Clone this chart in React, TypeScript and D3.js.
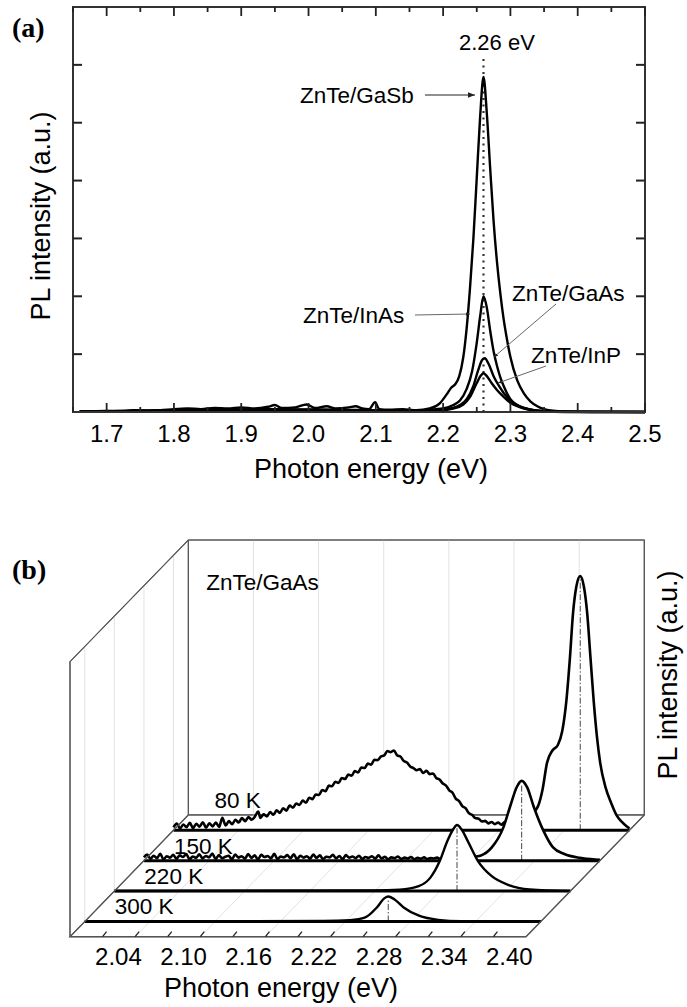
import React from 'react';
import * as d3 from 'd3';

const W = 687;
const H = 1007;
const SANS = 'Liberation Sans, Arial, sans-serif';
const SERIF = 'Liberation Serif, Times New Roman, serif';

// ---------- Panel (a) data ----------
const aDomainX: [number, number] = [1.65, 2.5];
const aDomainY: [number, number] = [0, 7];
const aTickLabels = ['1.7', '1.8', '1.9', '2.0', '2.1', '2.2', '2.3', '2.4', '2.5'];
const aPeakEnergy = 2.26;
const aPeakLabel = '2.26 eV';
const aSeriesNames = ['ZnTe/GaSb', 'ZnTe/InAs', 'ZnTe/GaAs', 'ZnTe/InP'];

const gasb: [number, number][] = [
  [1.66, 0.01], [1.70, 0.02], [1.72, 0.01], [1.74, 0.03], [1.76, 0.02], [1.78, 0.03], [1.80, 0.05],
  [1.82, 0.06], [1.84, 0.05], [1.86, 0.07], [1.88, 0.06], [1.90, 0.08], [1.92, 0.06], [1.94, 0.09],
  [1.95, 0.12], [1.96, 0.07], [1.98, 0.08], [1.997, 0.13], [2.01, 0.07], [2.027, 0.1], [2.04, 0.06],
  [2.06, 0.08], [2.07, 0.1], [2.08, 0.06], [2.09, 0.05], [2.099, 0.17], [2.105, 0.05], [2.12, 0.04],
  [2.14, 0.05], [2.16, 0.03], [2.18, 0.06], [2.195, 0.15], [2.205, 0.3], [2.212, 0.42], [2.218, 0.48],
  [2.224, 0.62], [2.23, 0.95], [2.235, 1.45], [2.24, 2.15], [2.245, 3.0], [2.25, 4.05], [2.255, 5.1],
  [2.26, 5.79], [2.265, 5.15], [2.27, 4.2], [2.275, 3.3], [2.28, 2.6], [2.285, 2.05], [2.29, 1.6],
  [2.295, 1.25], [2.30, 0.95], [2.31, 0.55], [2.32, 0.32], [2.33, 0.18], [2.34, 0.1], [2.35, 0.05],
  [2.36, 0.025], [2.38, 0.01], [2.42, 0.0], [2.5, 0.0],
];
const inas: [number, number][] = [
  [1.66, 0.01], [1.80, 0.03], [1.95, 0.05], [2.10, 0.03], [2.15, 0.02], [2.20, 0.06], [2.215, 0.12],
  [2.225, 0.2], [2.235, 0.4], [2.243, 0.7], [2.25, 1.2], [2.255, 1.65], [2.26, 2.0], [2.265, 1.8],
  [2.27, 1.4], [2.275, 1.05], [2.28, 0.8], [2.285, 0.6], [2.29, 0.45], [2.30, 0.22], [2.31, 0.12],
  [2.32, 0.07], [2.33, 0.04], [2.35, 0.015], [2.38, 0.0], [2.5, 0.0],
];
const gaas: [number, number][] = [
  [1.66, 0.01], [1.85, 0.03], [2.0, 0.04], [2.18, 0.02], [2.21, 0.06], [2.225, 0.12], [2.235, 0.22],
  [2.245, 0.45], [2.252, 0.72], [2.258, 0.9], [2.262, 0.93], [2.268, 0.82], [2.275, 0.62],
  [2.283, 0.45], [2.29, 0.33], [2.30, 0.2], [2.31, 0.12], [2.32, 0.07], [2.33, 0.04], [2.35, 0.015],
  [2.37, 0.005], [2.5, 0.0],
];
const inp: [number, number][] = [
  [1.66, 0.01], [1.90, 0.03], [2.05, 0.03], [2.19, 0.02], [2.215, 0.06], [2.23, 0.13], [2.24, 0.26],
  [2.25, 0.5], [2.256, 0.63], [2.26, 0.67], [2.265, 0.62], [2.272, 0.5], [2.28, 0.38], [2.29, 0.26],
  [2.30, 0.16], [2.31, 0.1], [2.32, 0.06], [2.335, 0.03], [2.35, 0.01], [2.5, 0.0],
];
const aSeries = [gasb, inas, gaas, inp];

// ---------- Panel (b) data ----------
const bDomainX: [number, number] = [2.0, 2.42];
const bTickLabels = ['2.04', '2.10', '2.16', '2.22', '2.28', '2.34', '2.40'];
const bTemps = ['80 K', '150 K', '220 K', '300 K'];
const bSample = 'ZnTe/GaAs';

const k80: [number, number][] = [
  [2.000, 0.010], [2.003, 0.024], [2.006, 0.006], [2.009, 0.021], [2.012, 0.011], [2.015, 0.027],
  [2.018, 0.008], [2.021, 0.023], [2.024, 0.013], [2.027, 0.029], [2.030, 0.009], [2.033, 0.025],
  [2.036, 0.014], [2.039, 0.028], [2.042, 0.012], [2.045, 0.045], [2.048, 0.017], [2.051, 0.033],
  [2.054, 0.022], [2.057, 0.038], [2.060, 0.028], [2.063, 0.044], [2.066, 0.033], [2.069, 0.048],
  [2.072, 0.038], [2.075, 0.05], [2.078, 0.068], [2.080, 0.045], [2.083, 0.058], [2.086, 0.05],
  [2.089, 0.066], [2.092, 0.056], [2.095, 0.072], [2.098, 0.063], [2.101, 0.08], [2.104, 0.071],
  [2.107, 0.09], [2.110, 0.082], [2.113, 0.097], [2.116, 0.092], [2.119, 0.108], [2.122, 0.1],
  [2.125, 0.118], [2.128, 0.113], [2.131, 0.13], [2.134, 0.128], [2.137, 0.146], [2.140, 0.142],
  [2.143, 0.162], [2.146, 0.16], [2.149, 0.176], [2.152, 0.172], [2.155, 0.19], [2.158, 0.186],
  [2.161, 0.202], [2.164, 0.198], [2.167, 0.215], [2.170, 0.21], [2.173, 0.228], [2.176, 0.226],
  [2.179, 0.242], [2.182, 0.238], [2.185, 0.256], [2.188, 0.255], [2.191, 0.268], [2.194, 0.272],
  [2.197, 0.288], [2.200, 0.284], [2.203, 0.29], [2.206, 0.272], [2.209, 0.268], [2.212, 0.252],
  [2.215, 0.246], [2.218, 0.232], [2.221, 0.226], [2.224, 0.218], [2.227, 0.222], [2.230, 0.208],
  [2.233, 0.216], [2.236, 0.204], [2.239, 0.206], [2.242, 0.19], [2.245, 0.184], [2.248, 0.17],
  [2.251, 0.162], [2.254, 0.145], [2.257, 0.136], [2.260, 0.115], [2.263, 0.106], [2.266, 0.088],
  [2.269, 0.08], [2.272, 0.062], [2.275, 0.056], [2.278, 0.044], [2.281, 0.042], [2.284, 0.032],
  [2.287, 0.034], [2.290, 0.025], [2.293, 0.03], [2.296, 0.022], [2.299, 0.028], [2.302, 0.02],
  [2.305, 0.03], [2.308, 0.026], [2.311, 0.036], [2.314, 0.034], [2.317, 0.046], [2.320, 0.044],
  [2.323, 0.056], [2.326, 0.056], [2.329, 0.068], [2.332, 0.07], [2.336, 0.09],
  [2.340, 0.15], [2.344, 0.245], [2.349, 0.29], [2.354, 0.31], [2.358, 0.36], [2.362, 0.477],
  [2.365, 0.62], [2.368, 0.79], [2.371, 0.885], [2.3746, 0.924], [2.378, 0.885], [2.381, 0.79],
  [2.384, 0.63], [2.387, 0.47], [2.390, 0.34], [2.393, 0.245], [2.398, 0.155], [2.403, 0.1],
  [2.408, 0.055], [2.413, 0.03], [2.417, 0.015], [2.42, 0.006],
];
const k150: [number, number][] = [
  [2.000, 0.012], [2.003, 0.022], [2.006, 0.006], [2.009, 0.018], [2.012, 0.009], [2.015, 0.025],
  [2.018, 0.004], [2.021, 0.016], [2.024, 0.011], [2.027, 0.021], [2.030, 0.007], [2.033, 0.019],
  [2.036, 0.013], [2.039, 0.024], [2.042, 0.005], [2.045, 0.015], [2.048, 0.010], [2.051, 0.023],
  [2.054, 0.008], [2.057, 0.017], [2.060, 0.012], [2.063, 0.026], [2.066, 0.006], [2.069, 0.020],
  [2.072, 0.009], [2.075, 0.014], [2.078, 0.018], [2.081, 0.005], [2.084, 0.022], [2.087, 0.011],
  [2.090, 0.016], [2.093, 0.007], [2.096, 0.024], [2.099, 0.010], [2.102, 0.019], [2.105, 0.004],
  [2.108, 0.021], [2.111, 0.013], [2.114, 0.017], [2.117, 0.008], [2.120, 0.025], [2.123, 0.006],
  [2.126, 0.015], [2.129, 0.012], [2.132, 0.020], [2.135, 0.009], [2.138, 0.023], [2.141, 0.005],
  [2.144, 0.018], [2.147, 0.011], [2.150, 0.016], [2.153, 0.007], [2.156, 0.022], [2.159, 0.010],
  [2.162, 0.019], [2.165, 0.006], [2.168, 0.014], [2.171, 0.012], [2.174, 0.021], [2.177, 0.008],
  [2.180, 0.017], [2.183, 0.005], [2.186, 0.020], [2.189, 0.011], [2.192, 0.015], [2.195, 0.009],
  [2.198, 0.018], [2.201, 0.006], [2.204, 0.013], [2.207, 0.010], [2.210, 0.016], [2.213, 0.007],
  [2.216, 0.019], [2.219, 0.008], [2.222, 0.014], [2.225, 0.005], [2.228, 0.012], [2.231, 0.009],
  [2.234, 0.015], [2.237, 0.006], [2.240, 0.011], [2.243, 0.008], [2.246, 0.013], [2.249, 0.005],
  [2.252, 0.010], [2.255, 0.007], [2.258, 0.012], [2.261, 0.006], [2.264, 0.009], [2.267, 0.008],
  [2.270, 0.011], [2.273, 0.006], [2.276, 0.010], [2.279, 0.007], [2.282, 0.009], [2.285, 0.008],
  [2.288, 0.011], [2.291, 0.006], [2.294, 0.010], [2.297, 0.009], [2.300, 0.012],
  [2.3098, 0.018], [2.3204, 0.048], [2.331, 0.12], [2.338, 0.206], [2.3433, 0.267], [2.3479, 0.29],
  [2.3529, 0.267], [2.3591, 0.195], [2.3679, 0.109], [2.3768, 0.048], [2.3872, 0.024],
  [2.4015, 0.01], [2.4156, 0.004], [2.42, 0.003],
];
const k220: [number, number][] = [
  [2.0, 0.0], [2.24, 0.002], [2.2627, 0.005], [2.2803, 0.018], [2.2909, 0.048], [2.2997, 0.109],
  [2.3067, 0.182], [2.312, 0.224], [2.3156, 0.24], [2.3198, 0.224], [2.3262, 0.176], [2.3349, 0.109],
  [2.3473, 0.055], [2.3632, 0.022], [2.3825, 0.006], [2.42, 0.0],
];
const k300: [number, number][] = [
  [2.0, 0.0], [2.22, 0.002], [2.2444, 0.005], [2.2584, 0.015], [2.269, 0.051], [2.2761, 0.085],
  [2.2795, 0.091], [2.285, 0.081], [2.2937, 0.051], [2.3078, 0.021], [2.3255, 0.006], [2.3466, 0.001],
  [2.42, 0.0],
];
const bSeries = [k80, k150, k220, k300];
const bPeaks = [2.3746, 2.3479, 2.3156, 2.2795];

export default function App() {
  // ---- Panel (a) scales ----
  const xa = d3.scaleLinear().domain(aDomainX).range([73, 645]);
  const ya = d3.scaleLinear().domain(aDomainY).range([412, 7]);
  const lineA = d3
    .line<[number, number]>()
    .x((d) => xa(d[0]))
    .y((d) => ya(d[1]))
    .curve(d3.curveMonotoneX);
  const aMinor = xa.ticks(17);
  const aMajor = aTickLabels.map(Number);
  const aYTicks = d3.range(1, 7);

  // ---- Panel (b) projection ----
  const bx = d3.scaleLinear().domain(bDomainX).range([70, 526]);
  const bz = d3.scaleLinear().domain([0, 1]).range([0, 275]);
  const depth = d3.scaleBand<string>().domain([...bTemps].reverse()).range([0, 1]);
  const DX = 118.3;
  const DY = 121.7;
  const FLOOR = 936.7;
  const proj = (v: number, d: number, z: number): [number, number] => [
    bx(v) + d * DX,
    FLOOR - d * DY - bz(z),
  ];
  const dOf = (t: string) => (depth(t) as number) + depth.bandwidth() / 2;
  const [x0, x1] = bDomainX;
  const bTicks = d3.range(13).map((i) => x0 + 0.03 * (i + 1));
  const bGrid = d3.range(6).map((i) => x0 + 0.06 * (i + 1));
  const pts = (arr: [number, number][]) => arr.map((p) => p.join(',')).join(' ');

  const sliceLine = (d: number) =>
    d3
      .line<[number, number]>()
      .x((p) => proj(p[0], d, p[1])[0])
      .y((p) => proj(p[0], d, p[1])[1])
      .curve(d3.curveMonotoneX);

  const grid = '#e2e2e2';
  const frame = '#555';

  return (
    <svg
      width={W}
      height={H}
      viewBox={`0 0 ${W} ${H}`}
      style={{ position: 'absolute', left: 0, top: 0, background: '#fff' }}
    >
      <defs>
        <marker id="arr" viewBox="0 0 10 10" refX="10" refY="5" markerWidth="7" markerHeight="7" orient="auto">
          <path d="M0,1L10,5L0,9z" fill="#222" />
        </marker>
        <marker id="arrs" viewBox="0 0 10 10" refX="10" refY="5" markerWidth="4" markerHeight="4" orient="auto">
          <path d="M0,1L10,5L0,9z" fill="#222" />
        </marker>
      </defs>
      <rect x={0} y={0} width={W} height={H} fill="#fff" />

      {/* ================= Panel (a) ================= */}
      <text x={12} y={37} fontFamily={SERIF} fontWeight="bold" fontSize={28}>(a)</text>

      <line x1={xa(aPeakEnergy)} x2={xa(aPeakEnergy)} y1={59} y2={412} stroke="#333" strokeWidth={2.2} strokeDasharray="2,4.5" />

      {aSeries.map((s, i) => (
        <path key={i} d={lineA(s) || ''} fill="none" stroke="#000" strokeWidth={2.4} strokeLinejoin="round" />
      ))}

      <rect x={73} y={7} width={572} height={405} fill="none" stroke="#333" strokeWidth={2} />
      {aMinor.map((t, i) => {
        const major = aMajor.some((m) => Math.abs(m - t) < 1e-6);
        const len = major ? 9 : 5;
        return (
          <g key={i}>
            <line x1={xa(t)} x2={xa(t)} y1={412} y2={412 - len} stroke="#222" strokeWidth={1.8} />
            <line x1={xa(t)} x2={xa(t)} y1={7} y2={7 + len} stroke="#222" strokeWidth={1.8} />
          </g>
        );
      })}
      {aYTicks.map((t) => (
        <g key={t}>
          <line x1={73} x2={82} y1={ya(t)} y2={ya(t)} stroke="#222" strokeWidth={2} />
          <line x1={645} x2={636} y1={ya(t)} y2={ya(t)} stroke="#222" strokeWidth={2} />
        </g>
      ))}
      {aTickLabels.map((l) => (
        <text key={l} x={xa(+l)} y={442} textAnchor="middle" fontFamily={SANS} fontSize={24}>{l}</text>
      ))}
      <text x={371} y={478} textAnchor="middle" fontFamily={SANS} fontSize={27}>Photon energy (eV)</text>
      <text transform="translate(50,216) rotate(-90)" textAnchor="middle" fontFamily={SANS} fontSize={27}>PL intensity (a.u.)</text>

      <text x={459} y={50} fontFamily={SANS} fontSize={22}>{aPeakLabel}</text>
      <text x={300} y={103} fontFamily={SANS} fontSize={22.5}>{aSeriesNames[0]}</text>
      <line x1={425} y1={95} x2={475} y2={95} stroke="#222" strokeWidth={1} markerEnd="url(#arr)" />
      <text x={303} y={323} fontFamily={SANS} fontSize={22.5}>{aSeriesNames[1]}</text>
      <line x1={415} y1={315} x2={470} y2={314} stroke="#666" strokeWidth={1} markerEnd="url(#arrs)" />
      <text x={512} y={301} fontFamily={SANS} fontSize={22.5}>{aSeriesNames[2]}</text>
      <line x1={556} y1={304} x2={494} y2={357} stroke="#666" strokeWidth={1} markerEnd="url(#arrs)" />
      <text x={531} y={363} fontFamily={SANS} fontSize={22.5}>{aSeriesNames[3]}</text>
      <line x1={546} y1={366} x2={498} y2={383} stroke="#666" strokeWidth={1} markerEnd="url(#arrs)" />

      {/* ================= Panel (b) ================= */}
      <text x={12} y={579} fontFamily={SERIF} fontWeight="bold" fontSize={28}>(b)</text>

      <polygon points={pts([proj(x0, 1, 0), proj(x1, 1, 0), proj(x1, 1, 1), proj(x0, 1, 1)])} fill="#fff" stroke={frame} strokeWidth={1} />
      <polygon points={pts([proj(x0, 0, 0), proj(x0, 1, 0), proj(x0, 1, 1), proj(x0, 0, 1)])} fill="#fff" stroke={frame} strokeWidth={1} />
      <polygon points={pts([proj(x0, 0, 0), proj(x1, 0, 0), proj(x1, 1, 0), proj(x0, 1, 0)])} fill="#fff" stroke={frame} strokeWidth={1} />

      {bGrid.map((v, i) => {
        const a = proj(v, 1, 0);
        const b = proj(v, 1, 1);
        const c = proj(v, 0, 0);
        return (
          <g key={i}>
            <line x1={a[0]} y1={a[1]} x2={b[0]} y2={b[1]} stroke={grid} strokeWidth={1} />
            <line x1={c[0]} y1={c[1]} x2={a[0]} y2={a[1]} stroke={grid} strokeWidth={1} />
          </g>
        );
      })}
      {bTemps.map((t) => {
        const d = dOf(t);
        const a = proj(x0, d, 0);
        const b = proj(x0, d, 1);
        return <line key={t} x1={a[0]} y1={a[1]} x2={b[0]} y2={b[1]} stroke={grid} strokeWidth={1} />;
      })}
      <polyline points={pts([proj(x0, 0, 0), proj(x0, 0, 1), proj(x0, 1, 1), proj(x1, 1, 1), proj(x1, 1, 0)])} fill="none" stroke={frame} strokeWidth={1.2} />
      <polyline points={pts([proj(x0, 1, 1), proj(x0, 1, 0), proj(x1, 1, 0)])} fill="none" stroke={frame} strokeWidth={1} />

      <text x={proj(x0, 1, 0)[0] + 18} y={590} fontFamily={SANS} fontSize={22.5}>{bSample}</text>

      {bTemps.map((t, i) => {
        const d = dOf(t);
        const data = bSeries[i];
        const ln = sliceLine(d);
        const curve = ln(data) || '';
        const bl = proj(x0, d, 0);
        const br = proj(x1, d, 0);
        const pk = bPeaks[i];
        const pkTop = data.reduce((m, p) => (Math.abs(p[0] - pk) < Math.abs(m[0] - pk) ? p : m), data[0]);
        const pTop = proj(pk, d, pkTop[1]);
        const pBot = proj(pk, d, 0);
        const lift = i === 0 ? 22 : 7;
        const shift = i === 0 ? 41 : 30;
        return (
          <g key={t}>
            <path d={`${curve}L${br[0]},${br[1]}L${bl[0]},${bl[1]}Z`} fill="#fff" stroke="none" />
            <line x1={pBot[0]} y1={pBot[1]} x2={pTop[0]} y2={pTop[1] + 3} stroke="#444" strokeWidth={1} strokeDasharray="6,2,1.5,2" />
            <path d={curve} fill="none" stroke="#000" strokeWidth={i < 2 ? 2.6 : 2.4} strokeLinejoin="round" />
            <line x1={bl[0]} y1={bl[1]} x2={br[0]} y2={br[1]} stroke="#000" strokeWidth={3} />
            <text x={bl[0] + shift} y={bl[1] - lift} fontFamily={SANS} fontSize={22.5}>{t}</text>
          </g>
        );
      })}

      <polyline points={pts([proj(x0, 1, 0), proj(x0, 0, 0), proj(x1, 0, 0), proj(x1, 1, 0)])} fill="none" stroke={frame} strokeWidth={1.4} />
      {bTicks.map((v, i) => {
        const a = proj(v, 0, 0);
        return <line key={i} x1={a[0]} y1={a[1]} x2={a[0] + 4} y2={a[1] - 5} stroke="#222" strokeWidth={1.3} />;
      })}
      {bTickLabels.map((l) => (
        <text key={l} x={bx(+l) + 5} y={965} textAnchor="middle" fontFamily={SANS} fontSize={24}>{l}</text>
      ))}
      <text x={281} y={997} textAnchor="middle" fontFamily={SANS} fontSize={27}>Photon energy (eV)</text>
      <text transform="translate(677,675) rotate(-90)" textAnchor="middle" fontFamily={SANS} fontSize={27}>PL intensity (a.u.)</text>
    </svg>
  );
}
